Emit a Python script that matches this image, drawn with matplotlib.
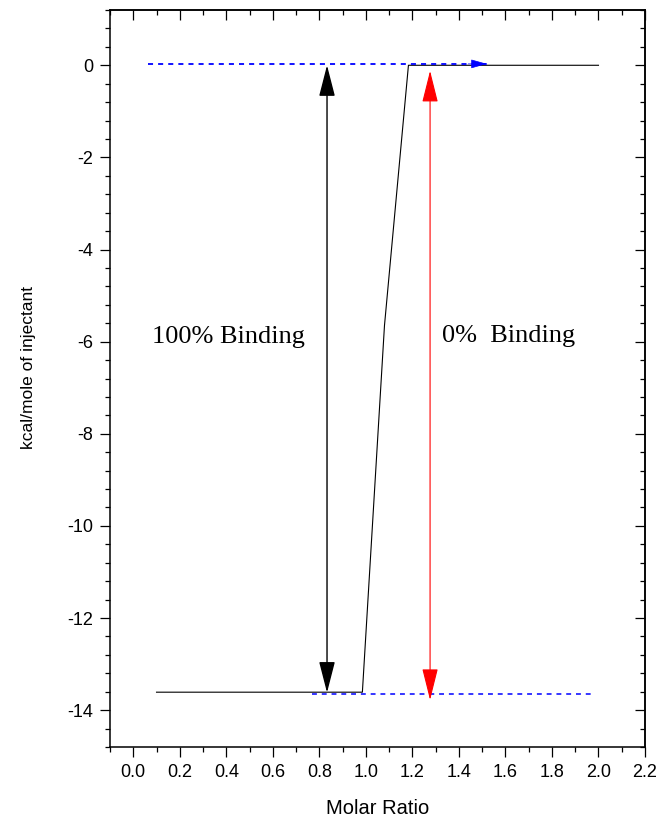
import matplotlib
matplotlib.use("Agg")
import matplotlib.pyplot as plt
from matplotlib.patches import FancyArrowPatch
from matplotlib.ticker import MultipleLocator

# ---- data ----
molar_ratio = [0.10, 0.985, 1.08, 1.183, 2.00]
kcal_per_mol = [-13.61, -13.61, -5.65, 0.0, 0.0]

# reference levels
y_free_level = 0.03          # 0 % binding level (top dashed line)
y_bound_level = -13.65       # 100 % binding level (bottom dashed line)
top_dash_x = [0.063, 1.52]
bottom_dash_x = [0.77, 1.98]

# arrows (x, y_low, y_high)
black_arrow = (0.833, -13.62, 0.0)
red_arrow = (1.276, -13.78, -0.12)

labels = {"bound": ("100% Binding", 0.082, -6.02),
          "free": ("0%  Binding", 1.328, -6.0)}

xlim = (-0.1, 2.2)
ylim = (-14.8, 1.2)

W, H = 668, 819
fig = plt.figure(figsize=(W / 100, H / 100), dpi=100)
ax = fig.add_axes([110 / W, 1 - 747 / H, (645 - 110) / W, (747 - 10) / H])

sans = "Liberation Sans"
serif = "Liberation Serif"

# data curve
ax.plot(molar_ratio, kcal_per_mol, color="black", lw=0.8, zorder=3)

# dashed reference lines
ax.plot(top_dash_x, [y_free_level, y_free_level], color="blue", lw=1.3,
        dashes=(2.8, 2.8), zorder=4)
ax.plot(bottom_dash_x, [y_bound_level, y_bound_level], color="blue", lw=1.1,
        dashes=(3.2, 3.2), zorder=4)
head = FancyArrowPatch((top_dash_x[1] - 0.08, y_free_level), (top_dash_x[1], y_free_level),
                       arrowstyle="-|>,head_length=10,head_width=2.8", mutation_scale=1,
                       color="blue", lw=0.5, shrinkA=0, shrinkB=0, zorder=5)
ax.add_patch(head)

# double-headed arrows
bx, by0, by1 = black_arrow
ax.add_patch(FancyArrowPatch((bx, by0), (bx, by1),
                             arrowstyle="<|-|>,head_length=19.5,head_width=5",
                             mutation_scale=1, color="black", lw=1.0,
                             shrinkA=0, shrinkB=0, zorder=5))
rx, ry0, ry1 = red_arrow
ax.add_patch(FancyArrowPatch((rx, ry0), (rx, ry1),
                             arrowstyle="<|-|>,head_length=20,head_width=5",
                             mutation_scale=1, color="red", lw=0.8,
                             shrinkA=0, shrinkB=0, zorder=5))

for key, (txt, tx, ty) in labels.items():
    ax.text(tx, ty, txt, family=serif, fontsize=19, ha="left", va="baseline",
            zorder=6)

ax.set_xlim(*xlim)
ax.set_ylim(*ylim)

ax.xaxis.set_major_locator(MultipleLocator(0.2))
ax.xaxis.set_minor_locator(MultipleLocator(0.1))
ax.yaxis.set_major_locator(MultipleLocator(2))
ax.yaxis.set_minor_locator(MultipleLocator(0.4))
ax.xaxis.set_major_formatter(matplotlib.ticker.FormatStrFormatter("%.1f"))
ax.yaxis.set_major_formatter(matplotlib.ticker.FuncFormatter(lambda v, p: f"{v:.0f}"))

for s in ax.spines.values():
    s.set_linewidth(1.1)

ax.tick_params(which="major", direction="out", length=7.2, width=0.9,
               labelsize=13, pad=5)
ax.tick_params(which="minor", direction="out", length=3.6, width=0.9)
for lab in ax.get_xticklabels() + ax.get_yticklabels():
    lab.set_family(sans)

top = ax.secondary_xaxis("top")
top.xaxis.set_major_locator(MultipleLocator(0.2))
top.xaxis.set_minor_locator(MultipleLocator(0.1))
top.tick_params(which="major", direction="in", length=7.2, width=0.9, labeltop=False)
top.tick_params(which="minor", direction="in", length=3.6, width=0.9)
top.spines["top"].set_linewidth(1.1)

right = ax.secondary_yaxis("right")
right.yaxis.set_major_locator(MultipleLocator(2))
right.yaxis.set_minor_locator(MultipleLocator(0.4))
right.tick_params(which="major", direction="in", length=7.2, width=0.9, labelright=False)
right.tick_params(which="minor", direction="in", length=3.6, width=0.9)
right.spines["right"].set_linewidth(1.1)

fig.text(28.5 / W, 1 - 368 / H, "kcal/mole of injectant", rotation=90,
         family=sans, fontsize=12.5, ha="center", va="center")
fig.text(378 / W, 1 - 808 / H, "Molar Ratio", family=sans, fontsize=14.5,
         ha="center", va="center")

fig.savefig("out.png", dpi=100)
